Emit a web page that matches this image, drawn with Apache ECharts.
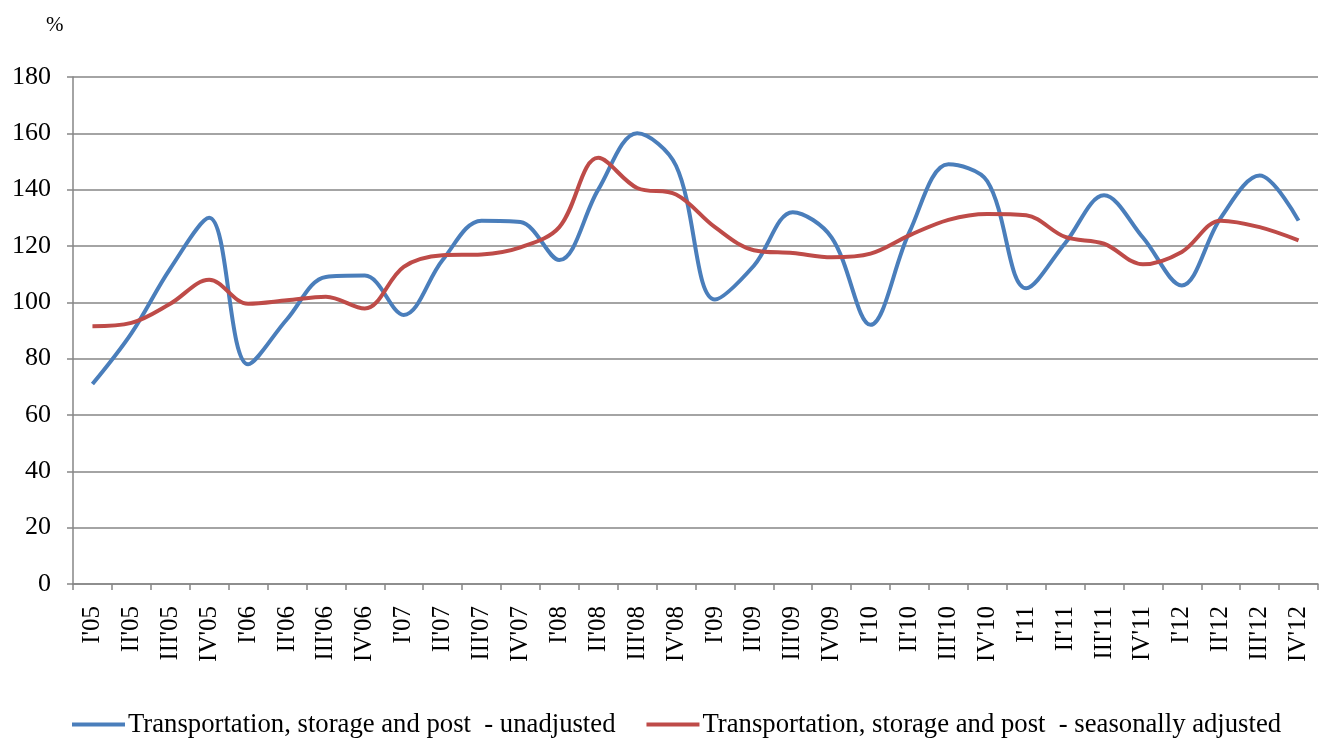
<!DOCTYPE html>
<html>
<head>
<meta charset="utf-8">
<script src="https://cdn.jsdelivr.net/npm/echarts@6/dist/echarts.min.js"></script>
<style>
html, body { margin: 0; padding: 0; background: #fff; }
#chart { width: 1319px; height: 738px; }
</style>
</head>
<body>
<div id="chart"></div>
<script>
// quarters I'05 .. IV'12
var quarters = [
	"I'05", "II'05", "III'05", "IV'05",
	"I'06", "II'06", "III'06", "IV'06",
	"I'07", "II'07", "III'07", "IV'07",
	"I'08", "II'08", "III'08", "IV'08",
	"I'09", "II'09", "III'09", "IV'09",
	"I'10", "II'10", "III'10", "IV'10",
	"I'11", "II'11", "III'11", "IV'11",
	"I'12", "II'12", "III'12", "IV'12"
];
var unadjusted = [
	71, 89, 112, 130,
	78, 94, 109, 109.5,
	95.5, 115, 129, 128.5,
	115, 140, 160, 148.5,
	101, 113, 132, 123,
	92, 125, 149, 143,
	105, 121, 138, 123,
	106, 130, 145, 129
];
var adjusted = [
	91.5, 92.7, 99.5, 108,
	99.5, 100.7, 102, 97.8,
	112.6, 116.7, 117, 119.5,
	126.7, 151.3, 140.6, 138.3,
	126.7, 118.5, 117.5, 116,
	117.3, 123.8, 129.3, 131.4,
	130.9, 123.2, 120.8, 113.5,
	117.9, 129, 126.7, 122
];
var seriesNames = [
	'Transportation, storage and post  - unadjusted',
	'Transportation, storage and post  - seasonally adjusted'
];

var chart = echarts.init(document.getElementById('chart'));
var serif = '"Liberation Serif", "Times New Roman", serif';
chart.setOption({
	animation: false,
	color: ['#4a7ebb', '#be4b48'],
	textStyle: { fontFamily: serif, color: '#000' },
	graphic: [{
		type: 'text',
		left: 46,
		top: 15,
		style: { text: '%', fontSize: 21, fontFamily: serif, fill: '#000' }
	}],
	grid: {
		left: 73,
		right: 1,
		top: 77,
		bottom: 154,
		containLabel: false
	},
	legend: {
		top: 711,
		left: 72,
		padding: 0,
		itemWidth: 53,
		itemHeight: 4,
		itemGap: 31,
		icon: 'rect',
		textStyle: { fontFamily: serif, fontSize: 26.7, color: '#000', padding: [0, 0, 0, -2] },
		data: seriesNames
	},
	xAxis: {
		type: 'category',
		data: quarters,
		boundaryGap: true,
		axisLine: { lineStyle: { color: '#868686', width: 1.5 } },
		axisTick: { show: true, length: 6, lineStyle: { color: '#868686', width: 1.5 } },
		axisLabel: {
			rotate: 90,
			interval: 0,
			margin: 22,
			fontFamily: serif,
			fontSize: 25,
			color: '#000'
		},
		splitLine: { show: false }
	},
	yAxis: {
		type: 'value',
		min: 0,
		max: 180,
		interval: 20,
		axisLine: { show: true, lineStyle: { color: '#868686', width: 1.5 } },
		axisTick: { show: true, length: 6, lineStyle: { color: '#868686', width: 1.5 } },
		axisLabel: { fontFamily: serif, fontSize: 26, color: '#000', margin: 22 },
		splitLine: { lineStyle: { color: '#868686', width: 1.5 } }
	},
	series: [
		{
			name: seriesNames[0],
			type: 'line',
			data: unadjusted,
			smooth: 0.35,
			symbol: 'none',
			lineStyle: { width: 4, color: '#4a7ebb' }
		},
		{
			name: seriesNames[1],
			type: 'line',
			data: adjusted,
			smooth: 0.35,
			symbol: 'none',
			lineStyle: { width: 4, color: '#be4b48' }
		}
	]
});
</script>
</body>
</html>
